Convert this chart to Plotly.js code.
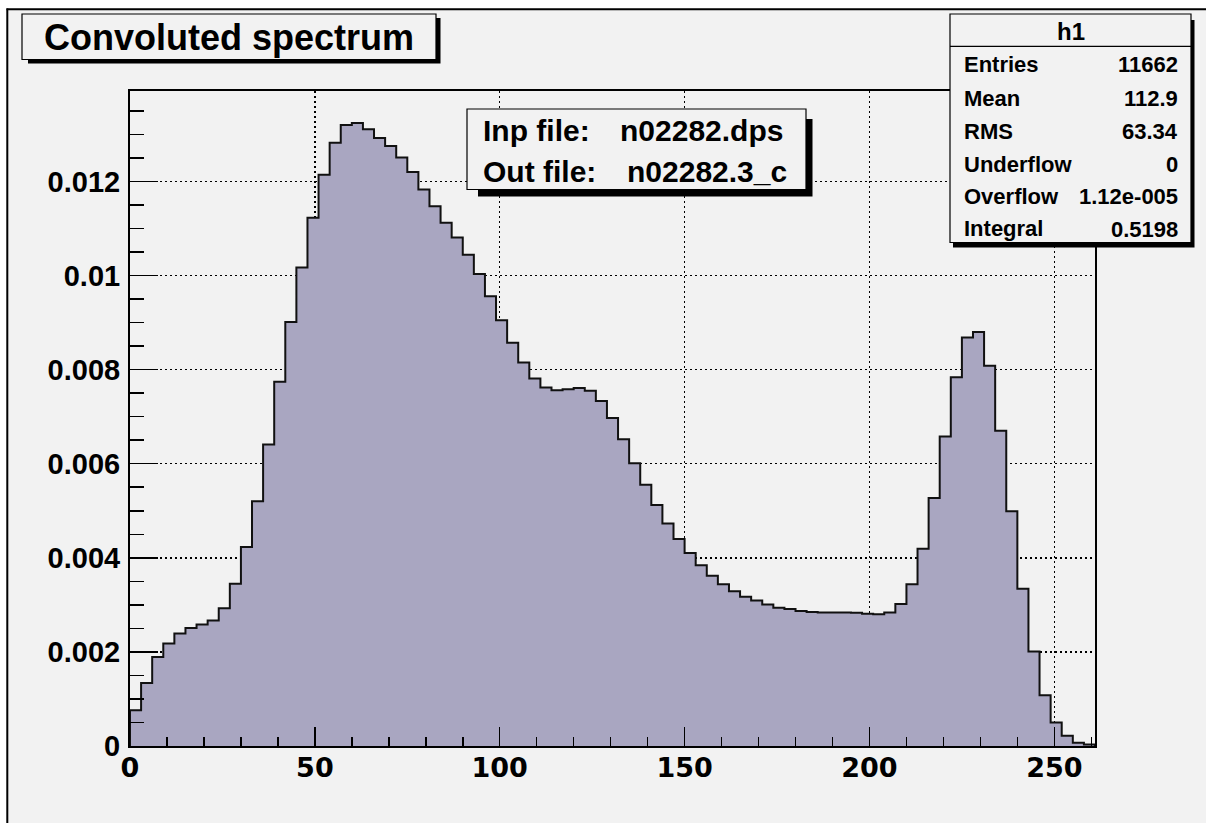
<!DOCTYPE html>
<html>
<head>
<meta charset="utf-8">
<script src="https://cdn.plot.ly/plotly-3.0.1.min.js"></script>
<style>
  html, body { margin: 0; padding: 0; background: #ffffff; }
  #chart { width: 1206px; height: 823px; }
</style>
</head>
<body>
<div id="chart"></div>
<script>
// ---- data ----
const histName = 'h1';
const titleText = 'Convoluted spectrum';
const binLow = 0;
const binWidth = 3;
const binContents = [
  0.00076, 0.00134, 0.00189, 0.00218, 0.00239, 0.00251, 0.00258, 0.00267, 0.00293, 0.00345,
  0.00423, 0.00520, 0.00641, 0.00774, 0.00901, 0.01017, 0.01123, 0.01214, 0.01282, 0.01320,
  0.01324, 0.01311, 0.01292, 0.01275, 0.01251, 0.01220, 0.01183, 0.01147, 0.01112, 0.01081,
  0.01044, 0.01003, 0.00956, 0.00905, 0.00857, 0.00815, 0.00781, 0.00762, 0.00756, 0.00758,
  0.00761, 0.00755, 0.00733, 0.00697, 0.00652, 0.00601, 0.00555, 0.00512, 0.00473, 0.00440,
  0.00410, 0.00384, 0.00362, 0.00344, 0.00329, 0.00317, 0.00309, 0.00301, 0.00294, 0.00291,
  0.00287, 0.00285, 0.00284, 0.00284, 0.00284, 0.00283, 0.00281, 0.00280, 0.00284, 0.00302,
  0.00344, 0.00419, 0.00527, 0.00658, 0.00784, 0.00868, 0.00880, 0.00808, 0.00670, 0.00499,
  0.00334, 0.00201, 0.00108, 0.00050, 0.00022, 0.00007, 0.00003
];
const xTickVals = [0, 50, 100, 150, 200, 250];
const xTickText = ['0', '50', '100', '150', '200', '250'];
const yTickVals = [0, 0.002, 0.004, 0.006, 0.008, 0.010, 0.012];
const yTickText = ['0', '0.002', '0.004', '0.006', '0.008', '0.01', '0.012'];
const statsLabels = ['Entries', 'Mean', 'RMS', 'Underflow', 'Overflow', 'Integral'];
const statsValues = ['11662', '112.9', '63.34', '0', '1.12e-005', '0.5198'];
const infoLabels = ['Inp file:', 'Out file:'];
const infoValues = ['n02282.dps', 'n02282.3_c'];

// ---- build step outline from bins ----
const nBins = binContents.length;
const xHigh = binLow + nBins * binWidth;
const xs = [binLow];
const ys = [0];
for (let i = 0; i < nBins; i++) {
  xs.push(binLow + i * binWidth);
  ys.push(binContents[i]);
}
xs.push(xHigh);
ys.push(0);

// ---- layout geometry (pixels) ----
const W = 1206, H = 823;
const mL = 130, mR = 111, mT = 91, mB = 77;
const plotW = W - mL - mR, plotH = H - mT - mB;
const px = v => (v - mL) / plotW;          // pixel x -> paper x
const py = v => (H - mB - v) / plotH;      // pixel y -> paper y

const BG = '#f2f2f2';
const FONT = 'Liberation Sans, Arial, Helvetica, sans-serif';
const WIDEFONT = 'DejaVu Sans, Verdana, sans-serif';

function rect(x0, y0, x1, y1, fill, lineW) {
  return {
    type: 'rect', xref: 'paper', yref: 'paper', layer: 'above',
    x0: px(x0), x1: px(x1), y0: py(y1), y1: py(y0),
    fillcolor: fill,
    line: { color: '#000', width: lineW }
  };
}
function hline(x0, x1, y, w) {
  return { type: 'line', xref: 'paper', yref: 'paper', layer: 'above',
    x0: px(x0), x1: px(x1), y0: py(y), y1: py(y), line: { color: '#000', width: w } };
}
function vline(x, y0, y1, w) {
  return { type: 'line', xref: 'paper', yref: 'paper', layer: 'above',
    x0: px(x), x1: px(x), y0: py(y0), y1: py(y1), line: { color: '#000', width: w } };
}

const shapes = [
  // white page margin strips and canvas border
  rect(0, 0, W, 8.5, '#ffffff', 0),
  rect(0, 0, 6.5, H, '#ffffff', 0),
  hline(6.5, W, 9.3, 2),
  vline(7.3, 8.5, H, 2),
  // title box with shadow
  rect(28, 18, 440.5, 63.5, '#000', 0),
  rect(22, 14, 436, 59.5, BG, 1.2),
  // info box with shadow
  rect(478, 119, 812.5, 196.5, '#000', 0),
  rect(467, 109, 806, 189.5, BG, 1.2),
  // stats box with shadow
  rect(953, 20, 1194.5, 247.5, '#000', 0),
  rect(950, 14, 1191, 242.5, BG, 1.2),
  hline(950, 1191, 46.3, 1.2)
];

const annotations = [];
function txt(text, x, y, size, xanchor) {
  annotations.push({
    text: text, xref: 'paper', yref: 'paper', x: px(x), y: py(y),
    xanchor: xanchor, yanchor: 'middle', showarrow: false,
    font: { family: FONT, size: size, color: '#000', weight: 'bold' }
  });
}
txt(titleText, 229, 37, 36, 'center');
txt(infoLabels[0], 481, 130, 30, 'left');
txt(infoLabels[1], 481, 171.5, 30, 'left');
txt(infoValues[0], 785, 130, 30, 'right');
txt(infoValues[1], 789, 171.5, 30, 'right');
txt(histName, 1071, 32, 24, 'center');
const rowY = [65, 98, 131, 164, 196.5, 228];
for (let i = 0; i < statsLabels.length; i++) {
  txt(statsLabels[i], 962, rowY[i], 22, 'left');
  txt(statsValues[i], 1180, rowY[i] + (i === statsLabels.length - 1 ? 2 : 0), 22, 'right');
}

const trace = {
  type: 'scatter', mode: 'lines',
  x: xs, y: ys,
  line: { shape: 'hv', color: '#111111', width: 2 },
  fill: 'tozeroy', fillcolor: '#a9a6c1',
  hoverinfo: 'x+y'
};

const layout = {
  width: W, height: H,
  margin: { l: mL, r: mR, t: mT, b: mB, pad: 0 },
  paper_bgcolor: BG, plot_bgcolor: BG,
  showlegend: false,
  xaxis: {
    range: [binLow, xHigh], fixedrange: true,
    tickmode: 'array', tickvals: xTickVals, ticktext: xTickText,
    ticks: 'inside', ticklen: 19, tickwidth: 1.5, tickcolor: '#000',
    minor: { tickmode: 'linear', tick0: 0, dtick: 10, ticks: 'inside', ticklen: 9.5, tickwidth: 1.5, tickcolor: '#000', showgrid: false },
    showgrid: true, gridcolor: '#000', gridwidth: 1.5, griddash: '2px,3px',
    showline: true, linecolor: '#000', linewidth: 2, mirror: true,
    zeroline: false, ticklabelstandoff: -3,
    tickfont: { family: WIDEFONT, size: 27, color: '#000', weight: 'bold' }
  },
  yaxis: {
    range: [0, plotH / 47050], fixedrange: true,
    tickmode: 'array', tickvals: yTickVals, ticktext: yTickText,
    ticks: 'inside', ticklen: 28, tickwidth: 1.5, tickcolor: '#000',
    minor: { tickmode: 'linear', tick0: 0, dtick: 0.0005, ticks: 'inside', ticklen: 14, tickwidth: 1.5, tickcolor: '#000', showgrid: false },
    showgrid: true, gridcolor: '#000', gridwidth: 1.5, griddash: '2px,3px',
    showline: true, linecolor: '#000', linewidth: 2, mirror: true,
    zeroline: false, ticklabelstandoff: 2,
    tickfont: { family: FONT, size: 29, color: '#000', weight: 'bold' }
  },
  shapes: shapes,
  annotations: annotations
};

Plotly.newPlot('chart', [trace], layout, { displayModeBar: false, staticPlot: true });
</script>
</body>
</html>
